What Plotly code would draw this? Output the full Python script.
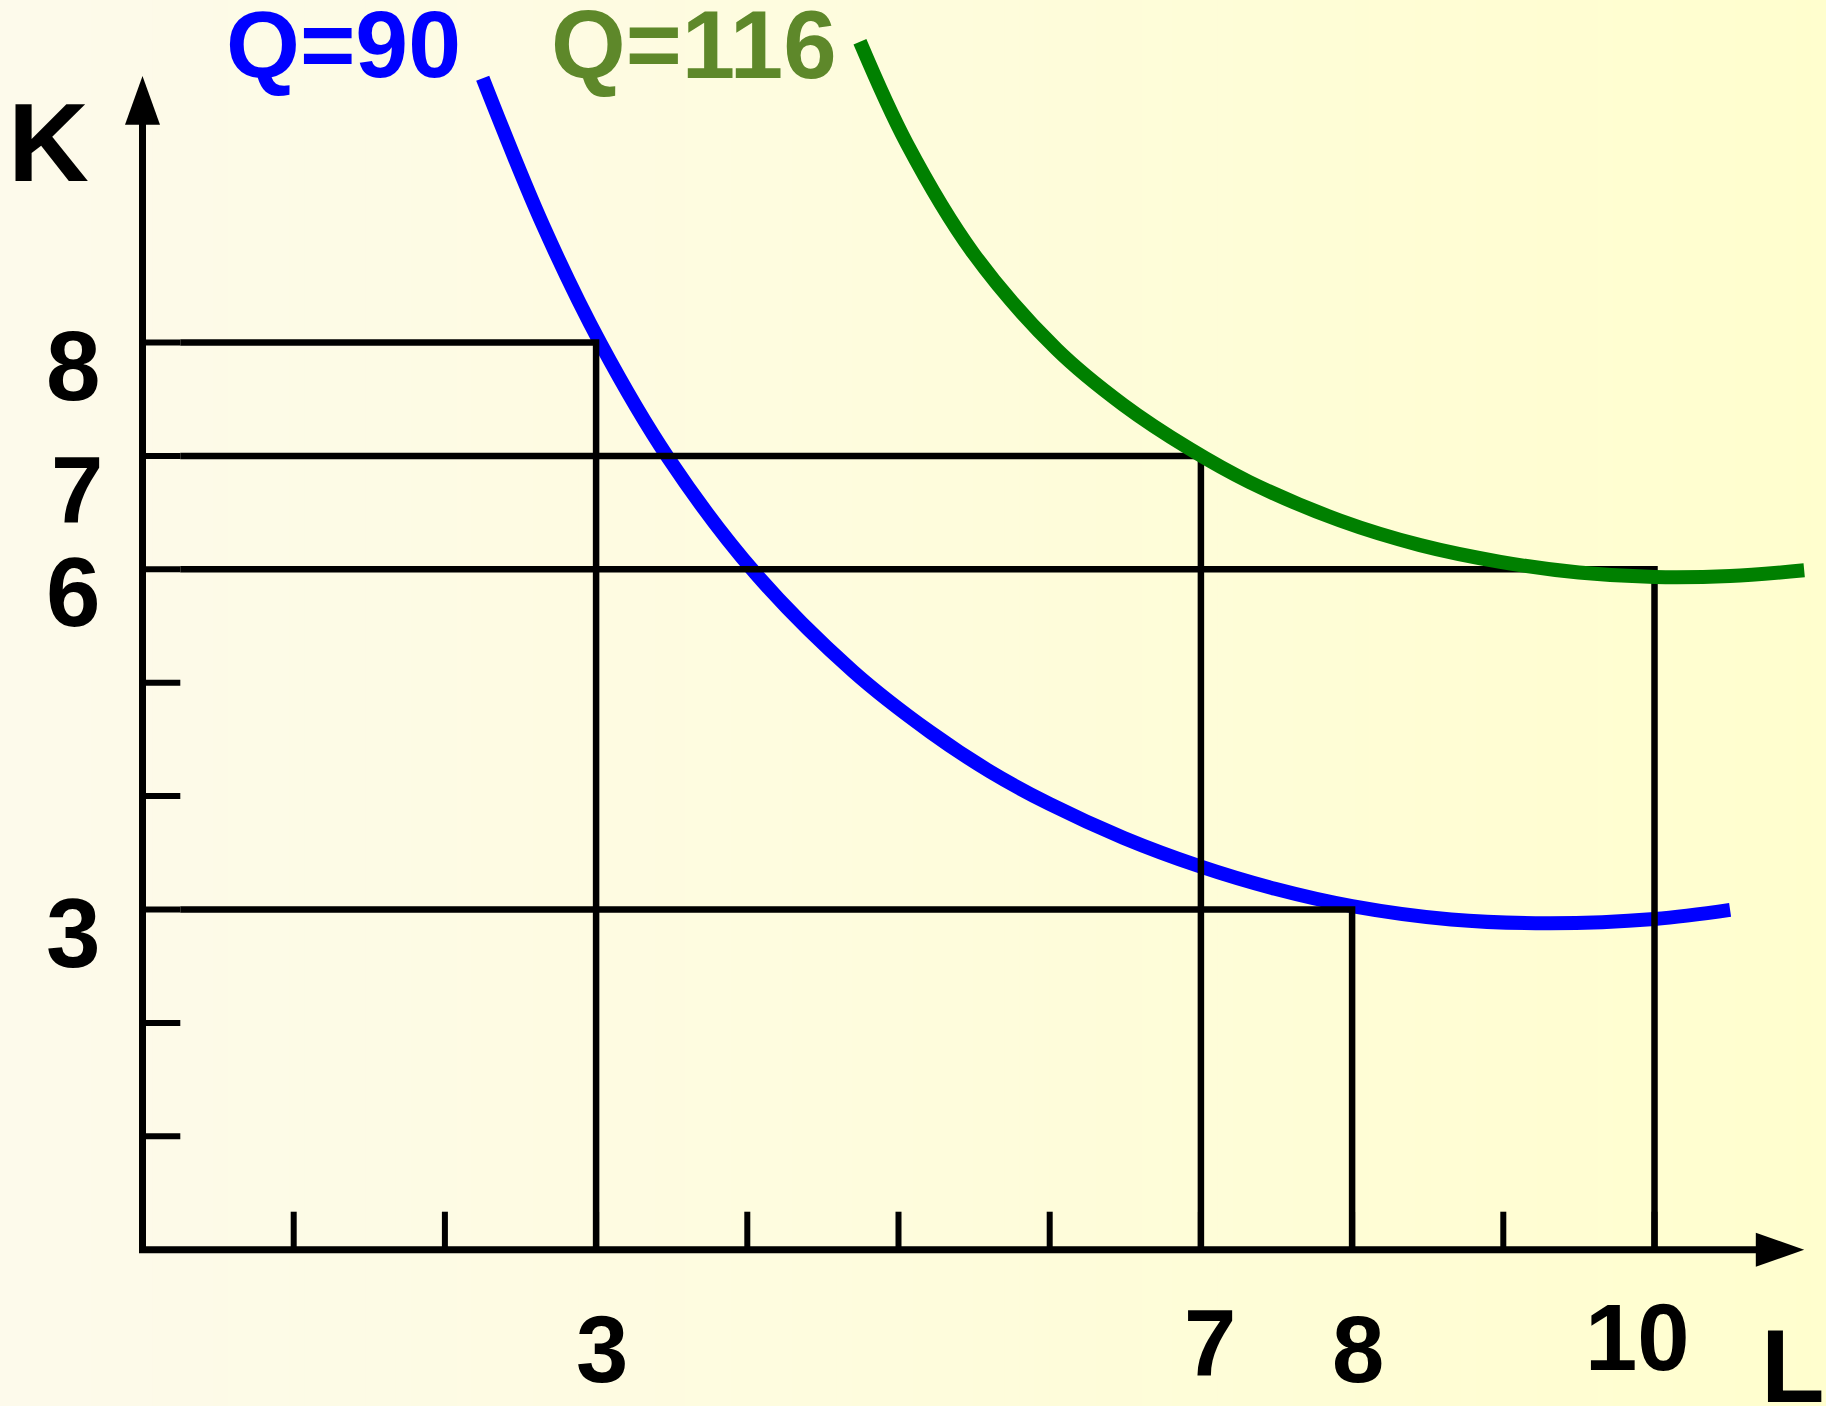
import plotly.graph_objects as go

# Isoquant Q=90: labour L against capital K
q90_L = [2.25, 2.65, 3.03, 3.478, 4.05, 4.70, 5.21, 5.605, 6.0, 6.49, 6.98, 7.49, 8.0,
         8.655, 9.31, 10.0, 10.5]
q90_K = [10.33, 9.03, 7.99, 6.98, 5.97, 5.10, 4.565, 4.217, 3.93, 3.631, 3.387, 3.183, 3.03,
         2.912, 2.879, 2.917, 2.997]

# Isoquant Q=116
q116_L = [4.745, 5.054, 5.495, 6.046, 6.487, 6.928, 7.32, 7.92, 8.45, 8.98, 9.5, 10.0, 10.5, 10.99]
q116_K = [10.652, 9.757, 8.787, 7.94, 7.45, 7.06, 6.77, 6.43, 6.213, 6.066, 5.971, 5.931, 5.94, 5.991]

# Input bundles marked by guide lines (L, K)
bundle_L = [3, 7, 10, 8]
bundle_K = [8, 7, 6, 3]

# Tick marks and labelled values
x_ticks = [1, 2, 3, 4, 5, 6, 7, 8, 9, 10]
y_ticks = [1, 2, 3, 4, 5, 6, 7, 8]
x_label_vals = [3, 7, 8, 10]
y_label_vals = [8, 7, 6, 3]

W, H = 1826, 1406
X0_PX, X_UNIT = 142.5, 151.2     # pixel of L=0, pixels per unit of L
Y0_PX, Y_UNIT = 1249.7, 113.4    # pixel of K=0, pixels per unit of K

x_range = [-X0_PX / X_UNIT, (W - X0_PX) / X_UNIT]
y_range = [-(H - Y0_PX) / Y_UNIT, Y0_PX / Y_UNIT]

BLACK = "#000000"
BLUE = "#0000FF"
GREEN = "#008000"
OLIVE = "#5E882A"
FONT = "Liberation Sans, Arial, Helvetica, sans-serif"

fig = go.Figure()

# axes (vertical K axis and horizontal L axis)
fig.add_trace(go.Scatter(
    x=[0, 0, 10.7], y=[9.95, 0, 0], mode="lines",
    line=dict(color=BLACK, width=7), hoverinfo="skip"))

# tick marks
tx, ty = [], []
for k in y_ticks:
    tx += [0, 0.25, None]
    ty += [k, k, None]
for l in x_ticks:
    tx += [l, l, None]
    ty += [0, 0.335, None]
fig.add_trace(go.Scatter(x=tx, y=ty, mode="lines",
                         line=dict(color=BLACK, width=6), hoverinfo="skip"))

# Q=90 isoquant
fig.add_trace(go.Scatter(x=q90_L, y=q90_K, mode="lines",
                         line=dict(color=BLUE, width=14, shape="spline", smoothing=1.0,
                                   simplify=False),
                         hoverinfo="skip"))

# guide lines to each input bundle
gx, gy = [], []
for l, k in zip(bundle_L, bundle_K):
    gx += [0.25, l, l, None]
    gy += [k, k, 0, None]
fig.add_trace(go.Scatter(x=gx, y=gy, mode="lines",
                         line=dict(color=BLACK, width=6.5), hoverinfo="skip"))

# Q=116 isoquant
fig.add_trace(go.Scatter(x=q116_L, y=q116_K, mode="lines",
                         line=dict(color=GREEN, width=14, shape="spline", smoothing=1.0,
                                   simplify=False),
                         hoverinfo="skip"))

# arrow heads
ax_hw = 17 / Y_UNIT
fig.add_trace(go.Scatter(x=[10.67, 10.99, 10.67, 10.67], y=[ax_hw, 0, -ax_hw, ax_hw],
                         mode="lines", fill="toself", fillcolor=BLACK,
                         line=dict(color=BLACK, width=0), hoverinfo="skip"))
ay_hw = 17.5 / X_UNIT
fig.add_trace(go.Scatter(x=[-ay_hw, 0, ay_hw, -ay_hw], y=[9.92, 10.35, 9.92, 9.92],
                         mode="lines", fill="toself", fillcolor=BLACK,
                         line=dict(color=BLACK, width=0), hoverinfo="skip"))

annotations = []

# K-axis value labels
y_lab_shift = {8: (-69, -23, 98), 7: (-66, -35, 94), 6: (-69, -23, 98), 3: (-69, -23, 98)}
for v in y_label_vals:
    dx, dy, sz = y_lab_shift[v]
    annotations.append(dict(x=0, y=v, xref="x", yref="y", text=str(v), showarrow=False,
                            xshift=dx, yshift=dy, xanchor="center", yanchor="middle",
                            font=dict(family=FONT, size=sz, color=BLACK, weight="bold")))

# L-axis value labels
x_lab_shift = {3: (6, -100), 7: (9, -94), 8: (6, -100), 10: (-17, -88)}
for v in x_label_vals:
    dx, dy = x_lab_shift[v]
    annotations.append(dict(x=v, y=0, xref="x", yref="y", text=str(v), showarrow=False,
                            xshift=dx, yshift=dy, xanchor="center", yanchor="middle",
                            font=dict(family=FONT, size=94, color=BLACK, weight="bold")))

# axis titles
annotations.append(dict(x=48 / W, y=1 - 142 / H, xref="paper", yref="paper", text="K",
                        showarrow=False, xanchor="center", yanchor="middle",
                        font=dict(family=FONT, size=112, color=BLACK, weight="bold")))
annotations.append(dict(x=1793 / W, y=1 - 1366 / H, xref="paper", yref="paper", text="L",
                        showarrow=False, xanchor="center", yanchor="middle",
                        font=dict(family=FONT, size=104, color=BLACK, weight="bold")))

# isoquant names
annotations.append(dict(x=343 / W, y=1 - 44 / H, xref="paper", yref="paper", text="Q=90",
                        showarrow=False, xanchor="center", yanchor="middle",
                        font=dict(family=FONT, size=95, color=BLUE, weight="bold")))
annotations.append(dict(x=694 / W, y=1 - 44 / H, xref="paper", yref="paper", text="Q=116",
                        showarrow=False, xanchor="center", yanchor="middle",
                        font=dict(family=FONT, size=96, color=OLIVE, weight="bold")))

# soft cream-to-yellow background wash
shapes = []
n_bands = 120
c0 = (253, 250, 235)
c1 = (255, 254, 206)
for i in range(n_bands):
    t = (i + 0.5) / n_bands
    col = tuple(round(a + (b - a) * t) for a, b in zip(c0, c1))
    shapes.append(dict(type="rect", xref="paper", yref="paper",
                       x0=i / n_bands, x1=(i + 1) / n_bands + 0.002, y0=0, y1=1,
                       fillcolor="rgb(%d,%d,%d)" % col, line=dict(width=0),
                       layer="below"))

fig.update_layout(
    width=W, height=H, autosize=False,
    margin=dict(l=0, r=0, t=0, b=0, pad=0),
    paper_bgcolor="rgb(253,250,235)",
    plot_bgcolor="rgba(0,0,0,0)",
    showlegend=False,
    xaxis=dict(range=x_range, visible=False, fixedrange=True),
    yaxis=dict(range=y_range, visible=False, fixedrange=True),
    annotations=annotations,
    shapes=shapes,
)

fig.write_html("out.html", config={"displayModeBar": False, "staticPlot": True})
